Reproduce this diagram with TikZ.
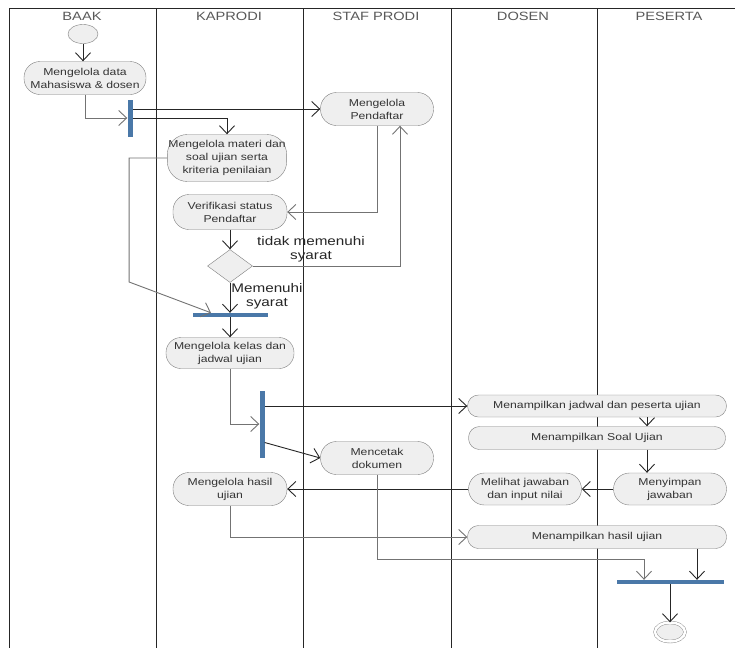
\documentclass[tikz,border=0pt]{standalone}
\usepackage{fontspec}
\setmainfont{Liberation Sans}[FakeStretch=1.22]
\usetikzlibrary{arrows.meta, positioning, shapes.geometric, calc}
\definecolor{actfill}{HTML}{EFEFEF}
\definecolor{actline}{HTML}{7F7F7F}
\definecolor{barblue}{HTML}{4A78A8}
\definecolor{txt}{HTML}{333333}

\begin{document}
\begin{tikzpicture}[x=1pt, y=-1pt, >={Straight Barb[length=8pt, width=15pt]},
  act/.style={draw=actline, fill=actfill, rectangle, rounded corners=16pt,
              align=center, inner sep=1pt, text=txt,
              font=\fontsize{10}{13}\selectfont},
  syncbar/.style={fill=barblue, draw=none, inner sep=0pt},
  flow/.style={->, draw=black!85, line width=0.9pt},
  flowg/.style={->, draw=black!55, line width=0.9pt},
  lane/.style={draw=black!85, line width=1pt},
  lbl/.style={align=center, text=black!85, font=\fontsize{12.5}{14}\selectfont},
  hdr/.style={text=black!65, font=\fontsize{12}{13}\selectfont}]
  \useasboundingbox (0,0) rectangle (735,648);
  \fill[white] (0,0) rectangle (735,648);

  % Swimlanes
  \draw[lane] (9,8) -- (735,8);
  \foreach \x in {9, 156, 303, 451, 597}
    \draw[lane] (\x,8) -- (\x,648);
  \foreach \x/\t [count=\k] in {82/BAAK, 229/KAPRODI, 376/STAF PRODI, 523/DOSEN, 669/PESERTA}
    \node[hdr] (hd\k) at (\x,16) {\t};

  % Activities
  \node[draw=actline, fill=actfill, ellipse, minimum width=30pt,
        minimum height=19pt] (start) at (83,34) {};
  \node[act, minimum width=122pt, minimum height=33pt] (dataMhs) at (85,78)
    {Mengelola data\\Mahasiswa \& dosen};
  \node[syncbar, minimum width=5pt, minimum height=37pt] (fork1) at (130,118) {};
  \node[act, minimum width=113pt, minimum height=33pt] (pendaftar) at (377,109)
    {Mengelola\\Pendaftar};
  \node[act, minimum width=119pt, minimum height=47pt, rounded corners=20pt]
    (materi) at (227,158) {Mengelola materi dan\\soal ujian serta\\kriteria penilaian};
  \node[act, minimum width=114pt, minimum height=35pt] (verif) at (230,212)
    {Verifikasi status\\Pendaftar};
  \node[diamond, draw=actline, fill=actfill, minimum width=45pt,
        minimum height=33pt, inner sep=0pt] (cek) at (230,266) {};
  \node[lbl] (lblTidak) at (311,249) {tidak memenuhi\\syarat};
  \node[lbl] (lblYa) at (267,296) {Memenuhi\\syarat};
  \node[syncbar, minimum width=75pt, minimum height=4pt] (join2) at (230,315) {};
  \node[act, minimum width=128pt, minimum height=31pt, rounded corners=15pt]
    (kelas) at (230,353) {Mengelola kelas dan\\jadwal ujian};
  \node[syncbar, minimum width=5pt, minimum height=67pt] (fork3) at (262,424) {};
  \node[act, minimum width=259pt, minimum height=22pt, rounded corners=11pt]
    (jadwal) at (597,406) {Menampilkan jadwal dan peserta ujian};
  \node[act, minimum width=257pt, minimum height=23pt, rounded corners=11pt]
    (soal) at (597,438) {Menampilkan Soal Ujian};
  \node[act, minimum width=113pt, minimum height=33pt] (mencetak) at (377,458)
    {Mencetak\\dokumen};
  \node[act, minimum width=113pt, minimum height=32pt] (menyimpan) at (670,489)
    {Menyimpan\\jawaban};
  \node[act, minimum width=113pt, minimum height=32pt] (melihat) at (525,489)
    {Melihat jawaban\\dan input nilai};
  \node[act, minimum width=114pt, minimum height=33pt] (hasil) at (230,489)
    {Mengelola hasil\\ujian};
  \node[act, minimum width=259pt, minimum height=23pt, rounded corners=11pt]
    (tampilHasil) at (597,537) {Menampilkan hasil ujian};
  \node[syncbar, minimum width=107pt, minimum height=4pt] (join4) at (670,582) {};
  \node[draw=actline, fill=actfill, ellipse, double=white, double distance=2.5pt,
        minimum width=30pt, minimum height=19pt] (finish) at (670,632) {};

  % Flows
  \draw[flow] (start) -- (start |- dataMhs.north);
  \draw[flowg] (dataMhs.south) |- (fork1.west);
  \draw[flow] (fork1.east |- pendaftar) -- (pendaftar);
  \draw[flow] (fork1.east) -| (materi.north);
  \draw[flowg] (pendaftar.south) |- (verif.east);
  \draw[flow] (verif) -- (cek);
  \draw[flowg] (cek.east) -| ([xshift=23pt]pendaftar.south);
  \draw[flow] (cek) -- (join2);
  \draw[flowg] (materi.west) -| ++(-38,124) -- ([xshift=-19pt]join2.north);
  \draw[flow] (join2) -- (kelas);
  \draw[flowg] (kelas.south) |- (fork3.west);
  \draw[flow] (fork3.east |- jadwal) -- (jadwal);
  \draw[flow] ([yshift=-18.5pt]fork3.east) -- (mencetak.west);
  \draw[flow] ([xshift=50pt]jadwal.south) -- ([xshift=50pt]soal.north);
  \draw[flow] ([xshift=50pt]soal.south) -- ([xshift=50pt]soal.south |- menyimpan.north);
  \draw[flow] (menyimpan) -- (melihat);
  \draw[flow] (melihat) -- (hasil);
  \draw[flowg] (hasil.south) |- (tampilHasil.west);
  \draw[flowg] (mencetak.south) -- ++(0,84.5) -| ([xshift=-26pt]join4.north);
  \draw[flow] ([xshift=100pt]tampilHasil.south) -- ([xshift=100pt]tampilHasil.south |- join4.north);
  \draw[flow] (join4) -- (finish);
\end{tikzpicture}
\end{document}
